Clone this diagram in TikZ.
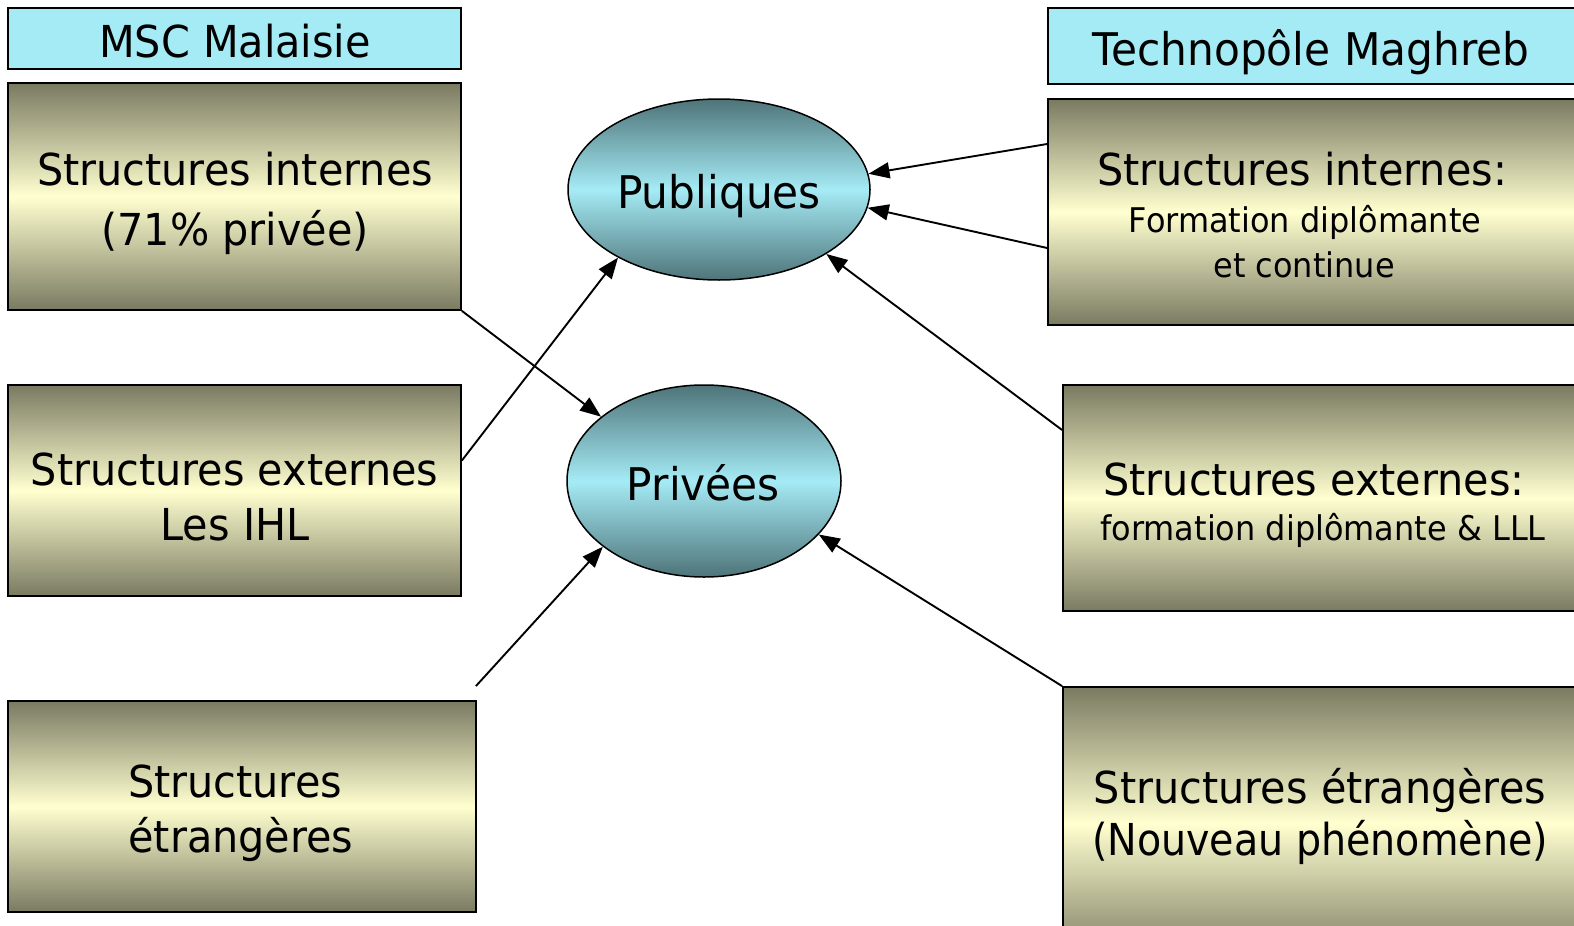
\documentclass[tikz,border=0pt]{standalone}
\usepackage{fontspec}
\setmainfont{DejaVu Sans}[FakeStretch=0.94]
\usetikzlibrary{arrows.meta,shapes.geometric,calc}
\definecolor{hcyan}{RGB}{165,235,245}
\definecolor{olivedark}{RGB}{122,122,98}
\definecolor{paleyel}{RGB}{255,255,208}
\definecolor{tealdark}{RGB}{78,116,121}
\begin{document}
\begin{tikzpicture}[x=1pt,y=-1pt,
  hdr/.style={draw=black,line width=1.8pt,fill=hcyan,rectangle,inner sep=0pt},
  goldbox/.style={draw=black,line width=1.8pt,rectangle,inner sep=0pt,
     top color=olivedark,bottom color=olivedark,middle color=paleyel},
  oval/.style={draw=black,line width=1.5pt,ellipse,inner sep=0pt,
     top color=tealdark,bottom color=tealdark,middle color=hcyan},
  big/.style={anchor=base,inner sep=0pt,font=\fontsize{44}{52}\selectfont},
  small/.style={anchor=base,inner sep=0pt,font=\fontsize{34}{40}\selectfont},
  conn/.style={line width=1.9pt,-{Triangle[length=21pt,width=16pt]}}]
\useasboundingbox (0,0) rectangle (1574,926);
\begin{scope}
\clip (0,0) rectangle (1574,926);
% left column
\node[hdr,minimum width=453pt,minimum height=61pt] (msc) at (234.5,38.5) {};
\node[goldbox,minimum width=453pt,minimum height=227pt] (l1) at (234.5,196.5) {};
\node[goldbox,minimum width=453pt,minimum height=211pt] (l2) at (234.5,490.5) {};
\node[goldbox,minimum width=468pt,minimum height=211pt] (l3) at (242,806.5) {};
% right column
\node[hdr,minimum width=552pt,minimum height=76pt] (tm) at (1324,46) {};
\node[goldbox,minimum width=552pt,minimum height=226pt] (r1) at (1324,212) {};
\node[goldbox,minimum width=537pt,minimum height=226pt] (r2) at (1331.5,498) {};
\node[goldbox,minimum width=537pt,minimum height=273pt] (r3) at (1331.5,823.5) {};
\end{scope}
% ellipses
\node[oval,minimum width=302pt,minimum height=181pt] (pub) at (719,189.5) {};
\node[oval,minimum width=274pt,minimum height=192pt] (priv) at (704,481) {};
% texts
\node[big] (msc-t) at (235,57) {MSC Malaisie};
\node[big,font=\fontsize{45}{52}\selectfont] (tm-t) at (1311,65) {Technopôle Maghreb};
\node[big] (l1a) at (235,185) {Structures internes};
\node[big] (l1b) at (235,245) {(71\% privée)};
\node[big] (l2a) at (234.5,485) {Structures externes};
\node[big] (l2b) at (235,540) {Les IHL};
\node[big] (l3a) at (235,797) {Structures};
\node[big] (l3b) at (241,852) {étrangères};
\node[big] (r1a) at (1302,185) {Structures internes:};
\node[small] (r1b) at (1305,232) {Formation diplômante};
\node[small] (r1c) at (1304,277) {et continue};
\node[big] (r2a) at (1314,495) {Structures externes:};
\node[small] (r2b) at (1323,540) {formation diplômante \& LLL};
\node[big] (r3a) at (1320,803) {Structures étrangères};
\node[big,font=\fontsize{44}{52}\selectfont\addfontfeature{FakeStretch=0.9}] (r3b) at (1320,855) {(Nouveau phénomène)};
\node[big,font=\fontsize{45}{52}\selectfont] (pub-t) at (719,208) {Publiques};
\node[big,font=\fontsize{45}{52}\selectfont] (priv-t) at (703.5,500) {Privées};
% connectors
\draw[conn] (l1.south east) -- (priv.148);
\draw[conn] ($(l2.east)+(0,-30)$) -- (pub.214.5);
\draw[conn] ($(l3.north east)+(-1,-14)$) -- (priv.213);
\draw[conn] ($(r1.west)+(0,-68)$) -- (pub.6.3);
\draw[conn] ($(r1.west)+(0,36)$) -- (pub.353.7);
\draw[conn] ($(r2.west)+(0,-68)$) -- (pub.329.6);
\draw[conn] (r3.north west) -- (priv.335);
\end{tikzpicture}
\end{document}
